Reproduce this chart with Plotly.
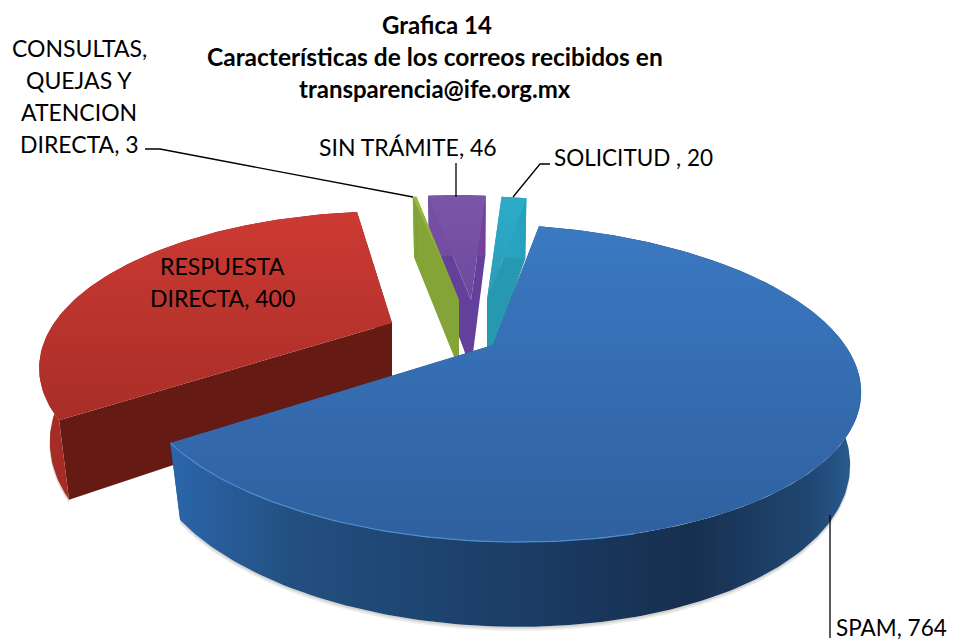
import numpy as np
import plotly.graph_objects as go

categories = ["SPAM", "RESPUESTA DIRECTA", "CONSULTAS, QUEJAS Y ATENCION DIRECTA", "SIN TRÁMITE", "SOLICITUD"]
values = [764, 400, 3, 46, 20]

# perspective model of the 3D pie (layout only)
START_DEG = 12.5
A, B, DEPTH, SHRINK = 352.0, 150.0, 69.0, 0.97
persp = {"SPAM": 0.239, "RESPUESTA DIRECTA": 0.30, "CONSULTAS, QUEJAS Y ATENCION DIRECTA": 0.239,
         "SIN TRÁMITE": 0.239, "SOLICITUD": 0.239}
skew = {"SPAM": -20.0, "RESPUESTA DIRECTA": 0.0, "CONSULTAS, QUEJAS Y ATENCION DIRECTA": -20.0,
        "SIN TRÁMITE": -20.0, "SOLICITUD": -20.0}
apex = {"SPAM": (493, 345), "RESPUESTA DIRECTA": (392, 323),
        "CONSULTAS, QUEJAS Y ATENCION DIRECTA": (459, 300),
        "SIN TRÁMITE": (471, 300), "SOLICITUD": (487, 300)}
radius = {"SPAM": 1.0, "RESPUESTA DIRECTA": 0.96,
          "CONSULTAS, QUEJAS Y ATENCION DIRECTA": 0.83,
          "SIN TRÁMITE": 0.84, "SOLICITUD": 0.83}
style = {
    "SPAM": dict(top=["#2f609f", "#3b79c2"], wall=[[0, "#2b66ab"], [.18, "#234f80"], [.5, "#1b3d66"], [.75, "#172f4f"], [.93, "#204873"], [1, "#2c5f98"]], side="#2a5a95", hi="#4a90d0"),
    "RESPUESTA DIRECTA": dict(top=["#a82e27", "#cc3a33"], wall=[[0, "#a82e27"], [.6, "#8c2119"], [1, "#6a1a14"]], side="#661a14", hi="#c43a32"),
    "CONSULTAS, QUEJAS Y ATENCION DIRECTA": dict(top=["#7f9f35", "#98bd42"], wall=[[0, "#88aa3a"], [1, "#7d9c33"]], side="#84a438", hi="#98bd42"),
    "SIN TRÁMITE": dict(top=["#6d4a9e", "#7b55a8"], wall=[[0, "#7650a5"], [1, "#72409c"]], side="#63409b", hi="#7e55a8"),
    "SOLICITUD": dict(top=["#2a9cb8", "#2cacc9"], wall=[[0, "#2aa5c4"], [1, "#26a0bc"]], side="#2698b0", hi="#2cb0cf"),
}
draw_order = ["RESPUESTA DIRECTA", "SIN TRÁMITE", "CONSULTAS, QUEJAS Y ATENCION DIRECTA", "SOLICITUD", "SPAM"]

total = sum(values)
fig = go.Figure()


def project(name, th, r):
    """Screen x, y of the top and bottom surfaces for a slice-local polar point."""
    ax, ay = apex[name]
    X, Y = r * np.sin(th), r * np.cos(th)
    w = 1 + persp[name] * Y
    dx, dy = (A * X + skew[name] * Y) / w, -B * Y / w
    top = (ax + dx, ay + dy)
    bot = (ax + dx * SHRINK, ay + dy * SHRINK + DEPTH / w)
    return top, bot


def poly(x, y, color=None, grad=None, gtype="vertical"):
    kw = dict(x=list(x), y=list(y), mode="lines", fill="toself", hoverinfo="skip", showlegend=False,
              line=dict(width=0, color="rgba(0,0,0,0)"))
    if grad is not None:
        kw["fillgradient"] = dict(type=gtype, colorscale=grad)
        kw["fillcolor"] = grad[0][1]
    else:
        kw["fillcolor"] = color
    fig.add_trace(go.Scatter(**kw))


angles = {}
cur = np.radians(START_DEG)
for c, v in zip(categories, values):
    sweep = 2 * np.pi * v / total
    angles[c] = (cur, cur + sweep)
    cur += sweep

for name in draw_order:
    t0, t1 = angles[name]
    r = radius[name]
    s = style[name]
    th = np.linspace(t0, t1, max(6, int((t1 - t0) * 60)))
    (tx, ty), (bx, by) = project(name, th, r)
    (cx, cy), (dx, dy) = project(name, 0.0, 0.0)
    # soft shadow
    if name in ("SPAM", "RESPUESTA DIRECTA"):
        for off, al in ((4, .10), (2, .14)):
            poly(np.r_[bx, bx[::-1]], np.r_[by + off, by[::-1]], color=f"rgba(70,70,60,{al})")
    # radial walls
    poly([cx, tx[0], bx[0], dx], [cy, ty[0], by[0], dy], color=s["side"])
    poly([cx, tx[-1], bx[-1], dx], [cy, ty[-1], by[-1], dy], color=s["side"])
    # outer wall
    poly(np.r_[tx, bx[::-1]], np.r_[ty, by[::-1]], grad=s["wall"], gtype="horizontal")
    # top surface
    poly(np.r_[cx, tx], np.r_[cy, ty], grad=[[0, s["top"][0]], [1, s["top"][1]]], gtype="vertical")
    if name == "SPAM":
        front = th > np.radians(165)
        fig.add_trace(go.Scatter(x=tx[front], y=ty[front], mode="lines", hoverinfo="skip", showlegend=False,
                                 line=dict(color=s["hi"], width=1.2)))

# leader lines
leaders = [
    ([145, 160, 413], [149, 149, 197]),
    ([456, 456], [163, 197]),
    ([550, 540, 513], [164, 164, 197]),
    ([830, 830], [515, 638]),
]
for lx, ly in leaders:
    fig.add_trace(go.Scatter(x=lx, y=ly, mode="lines", hoverinfo="skip", showlegend=False,
                             line=dict(color="#000000", width=1.3)))

FONT = "Lato, Carlito, Calibri, sans-serif"
labels = [
    ("<b>Grafica 14</b>", 437, 24, 24), ("<b>Características de los correos recibidos en</b>", 435, 56, 24.5),
    ("<b>transparencia@ife.org.mx</b>", 435, 88, 24),
    ("CONSULTAS,", 79, 48, 23), ("QUEJAS Y", 79, 80, 23), ("ATENCION", 79, 112, 23),
    (f"DIRECTA, {values[2]}", 79, 144, 23),
    (f"SIN TRÁMITE, {values[3]}", 408, 147, 23),
    (f"SOLICITUD , {values[4]}", 633, 157, 22.5),
    ("RESPUESTA", 222, 266, 23), (f"DIRECTA, {values[1]}", 222, 298, 23),
    (f"SPAM, {values[0]}", 891, 627, 22.5),
]
for text, x, y, size in labels:
    fig.add_annotation(x=x, y=y, text=text, showarrow=False, xref="x", yref="y",
                       xanchor="center", yanchor="middle", font=dict(family=FONT, size=size, color="#000000"))

fig.update_layout(width=953, height=642, margin=dict(l=0, r=0, t=0, b=0), paper_bgcolor="white",
                  plot_bgcolor="white", showlegend=False,
                  xaxis=dict(range=[0, 953], visible=False, fixedrange=True),
                  yaxis=dict(range=[642, 0], visible=False, fixedrange=True))
fig.write_html("out.html", post_script="document.body.style.margin='0';", config={"displayModeBar": False})
